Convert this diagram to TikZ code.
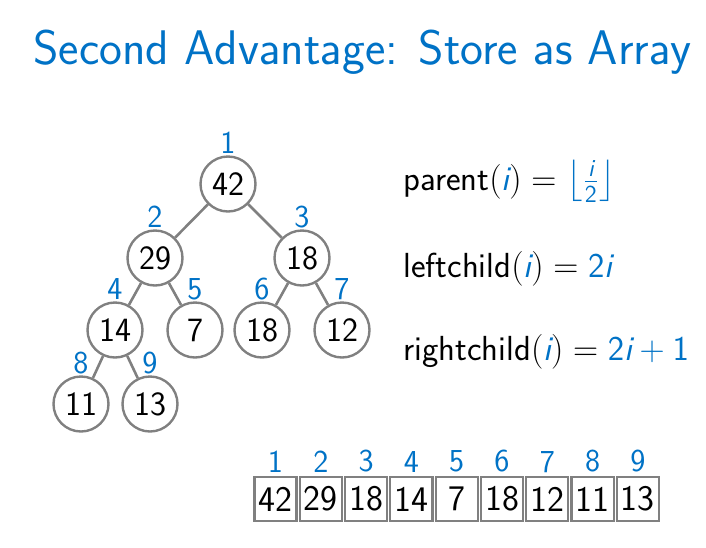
\RequirePackage{fix-cm}
\documentclass[tikz,border=0pt]{standalone}
\usepackage{amsmath}
\usepackage{tikz}
\usetikzlibrary{positioning}
\definecolor{azul}{RGB}{0,114,198}
\definecolor{gris}{RGB}{128,128,128}
\newcommand{\azul}[1]{\textcolor{azul}{#1}}
\newcommand{\indice}{\textsf{\itshape i}}
\newcommand{\fuentetitulo}{\fontencoding{OT1}\fontfamily{cmss}\fontsize{24.3}{29}\selectfont}

\begin{document}
\begin{tikzpicture}[x=0.5pt, y=-0.5pt,
  nodo/.style={draw=gris, line width=1.2pt, circle, minimum size=27.5pt,
               inner sep=0pt, font=\sffamily\fontsize{17}{20}\selectfont},
  numero/.style={text=azul, inner sep=0pt,
                 font=\sffamily\fontsize{16}{19}\selectfont},
  celda/.style={draw=gris, line width=1.1pt, minimum width=21.05pt,
                minimum height=22.25pt, inner sep=0pt, outer sep=0pt,
                font=\sffamily\fontsize{18}{21}\selectfont},
  rama/.style={draw=gris, line width=1.3pt},
  formula/.style={anchor=base west, inner sep=0pt,
                  font=\sffamily\fontsize{17.4}{20}\selectfont},
  every label/.style={numero}, label distance=0.5pt]
  \useasboundingbox (0,0) rectangle (706,547);
  \node[anchor=base west, inner sep=0pt, text=azul, font=\fuentetitulo]
    (titulo) at (33,64) {Second Advantage: Store as Array};
  % arbol
  \node[nodo, label=above:1] (n1) at (228,184) {42};
  \node[nodo, label=above:2] (n2) at (155,258) {29};
  \node[nodo, label=above:3] (n3) at (302,258) {18};
  \node[nodo, label=above:4] (n4) at (115,330) {14};
  \node[nodo, label=above:5] (n5) at (195,330) {7};
  \node[nodo, label=above:6] (n6) at (262,330) {18};
  \node[nodo, label=above:7] (n7) at (342,330) {12};
  \node[nodo, label=above:8] (n8) at (81,404) {11};
  \node[nodo, label=above:9] (n9) at (150,404) {13};
  \draw[rama] (n1) -- (n2);
  \draw[rama] (n1) -- (n3);
  \draw[rama] (n2) -- (n4);
  \draw[rama] (n2) -- (n5);
  \draw[rama] (n3) -- (n6);
  \draw[rama] (n3) -- (n7);
  \draw[rama] (n4) -- (n8);
  \draw[rama] (n4) -- (n9);
  % formulas
  \node[formula] (padre) at (403,190)
    {$\text{parent}(\azul{\indice}) = \azul{\left\lfloor\tfrac{\indice}{\mathsf{2}}\right\rfloor}$};
  \node[formula] (izq) at (403,277.7)
    {$\text{leftchild}(\azul{\indice}) = \azul{\mathsf{2}\indice}$};
  \node[formula] (der) at (403,360.7)
    {$\text{rightchild}(\azul{\indice}) = \azul{\mathsf{2}\indice + \mathsf{1}}$};
  % arreglo
  \begin{scope}[label distance=2pt]
  \node[celda, label=above:1] (a1) at (275.5,499) {42};
  \node[celda, right=1.6pt of a1, label=above:2] (a2) {29};
  \node[celda, right=1.6pt of a2, label=above:3] (a3) {18};
  \node[celda, right=1.6pt of a3, label=above:4] (a4) {14};
  \node[celda, right=1.6pt of a4, label=above:5] (a5) {7};
  \node[celda, right=1.6pt of a5, label=above:6] (a6) {18};
  \node[celda, right=1.6pt of a6, label=above:7] (a7) {12};
  \node[celda, right=1.6pt of a7, label=above:8] (a8) {11};
  \node[celda, right=1.6pt of a8, label=above:9] (a9) {13};
  \end{scope}
\end{tikzpicture}
\end{document}
